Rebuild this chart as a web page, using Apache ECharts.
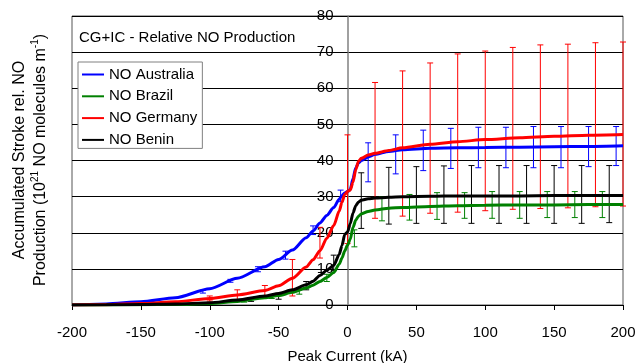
<!DOCTYPE html>
<html>
<head>
<meta charset="utf-8">
<script src="https://cdn.jsdelivr.net/npm/echarts@6/dist/echarts.min.js"></script>
<style>
  html, body { margin: 0; padding: 0; background: #fff; }
  #chart { width: 636px; height: 363px; }
</style>
</head>
<body>
<div id="chart"></div>
<script>
// peak current (kA) sample points for the curves
const curveX = [-200, -175, -150, -125, -100, -80, -60, -50, -40, -30, -25, -20, -15, -10, -6, -4, -2, 0,
  2, 4, 6, 8, 10, 15, 20, 30, 40, 60, 80, 100, 125, 150, 175, 200];

const australia = [0, 0.3, 0.9, 2.0, 4.5, 7.4, 10.6, 12.6, 15.2, 18.6, 20.5, 22.7, 24.8, 27.0, 29.3, 30.3, 31.0, 31.4,
  32.0, 35.0, 38.0, 39.3, 40.0, 41.0, 41.7, 42.5, 43.0, 43.4, 43.5, 43.6, 43.7, 43.8, 43.9, 44.1];
const brazil = [0, 0.02, 0.1, 0.2, 0.4, 1.0, 2.0, 2.6, 3.5, 4.7, 5.5, 6.5, 7.6, 9.0, 11.3, 13.0, 15.0, 16.6,
  18.2, 21.5, 23.5, 24.6, 25.2, 25.9, 26.3, 26.8, 27.0, 27.3, 27.5, 27.6, 27.7, 27.7, 27.8, 27.8];
const germany = [0, 0.1, 0.4, 0.9, 1.8, 2.8, 4.0, 5.3, 7.4, 10.5, 12.5, 15.0, 18.5, 22.0, 26.0, 28.5, 30.6, 31.4,
  31.8, 34.0, 37.5, 39.8, 40.6, 41.5, 42.0, 42.8, 43.5, 44.5, 45.2, 45.8, 46.3, 46.7, 47.0, 47.2];
const benin = [0, 0.05, 0.15, 0.3, 0.6, 1.4, 2.5, 3.2, 4.2, 5.6, 6.6, 8.2, 9.6, 11.0, 14.0, 16.5, 19.5, 20.2,
  22.5, 25.5, 27.5, 28.5, 29.0, 29.4, 29.6, 29.8, 30.0, 30.1, 30.2, 30.2, 30.2, 30.3, 30.3, 30.3];

// error bars: x, low, high
const australiaErrX = [-105, -85, -65, -45, -25, -5, 15, 35, 55, 75, 95, 115, 135, 155, 175, 195];
const australiaErrLo = [3.3, 6.3, 9.2, 12.7, 19.5, 28.6, 34.1, 36.3, 37.2, 37.8, 38.0, 38.0, 38.0, 38.0, 38.3, 38.6];
const australiaErrHi = [4.1, 7.1, 10.6, 14.9, 21.9, 31.8, 44.9, 47.1, 48.4, 48.9, 49.2, 49.2, 49.4, 49.4, 49.4, 49.4];

const brazilErrX = [-75, -55, -35, -15, 5, 25, 45, 65, 85, 105, 125, 145, 165, 185];
const brazilErrLo = [0.8, 1.8, 3.0, 6.5, 16.1, 23.3, 23.5, 23.7, 24.0, 24.0, 24.0, 24.2, 24.2, 24.2];
const brazilErrHi = [1.4, 2.6, 4.2, 8.5, 20.8, 30.0, 30.6, 31.1, 31.1, 31.4, 31.4, 31.4, 31.4, 31.4];

const germanyErrX = [-100, -80, -60, -40, -20, 0, 20, 40, 60, 80, 100, 120, 140, 160, 180, 200];
const germanyErrLo = [1.1, 1.2, 1.8, 2.5, 13.0, 17.0, 24.0, 24.6, 25.4, 25.7, 26.1, 26.5, 26.7, 26.9, 27.2, 27.4];
const germanyErrHi = [2.5, 4.2, 5.4, 12.6, 21.5, 47.1, 61.6, 64.8, 67.0, 69.5, 70.3, 71.3, 72.0, 72.2, 72.6, 72.8];

const beninErrX = [-70, -50, -30, -10, 10, 30, 50, 70, 90, 110, 130, 150, 170, 190];
const beninErrLo = [1.0, 1.6, 4.2, 9.5, 21.2, 22.4, 22.6, 22.6, 22.6, 22.6, 22.6, 22.6, 22.6, 22.8];
const beninErrHi = [1.8, 2.9, 6.5, 13.8, 36.6, 38.1, 38.3, 38.5, 38.6, 38.6, 38.6, 38.6, 38.6, 38.6];

const xTicks = { min: -200, max: 200, interval: 50 };
const yTicks = { min: 0, max: 80, interval: 10 };

const font = "'Liberation Sans', Arial, sans-serif";
const lineIcon = "path://M0,0H22V2H0Z";

function pairs(xs, ys) {
  return xs.map((x, i) => [x, ys[i]]);
}

function triples(xs, lo, hi) {
  return xs.map((x, i) => [x, lo[i], hi[i]]);
}

function lineSeries(name, color, ys) {
  return {
    name: name,
    type: "line",
    data: pairs(curveX, ys),
    symbol: "none",
    smooth: 0.25,
    smoothMonotone: "x",
    lineStyle: { color: color, width: 3 },
    itemStyle: { color: color },
  };
}

function errorSeries(color, xs, lo, hi) {
  return {
    type: "custom",
    data: triples(xs, lo, hi),
    encode: { x: 0, y: [1, 2] },
    renderItem: function (params, api) {
      const x = api.value(0);
      const a = api.coord([x, api.value(1)]);
      const b = api.coord([x, api.value(2)]);
      const cap = 3;
      const style = { stroke: color, lineWidth: 1 };
      return {
        type: "group",
        children: [
          { type: "line", shape: { x1: a[0], y1: a[1], x2: b[0], y2: b[1] }, style: style },
          { type: "line", shape: { x1: b[0] - cap, y1: b[1], x2: b[0] + cap, y2: b[1] }, style: style },
          { type: "line", shape: { x1: a[0] - cap, y1: a[1], x2: a[0] + cap, y2: a[1] }, style: style },
        ],
      };
    },
  };
}

const chart = echarts.init(document.getElementById("chart"));

chart.setOption({
  animation: false,
  textStyle: { fontFamily: font },
  grid: {
    left: 72,
    right: 13,
    top: 16,
    bottom: 58,
    outerBoundsMode: "none",
    show: true,
    borderColor: "#555",
    borderWidth: 1,
  },
  legend: {
    orient: "vertical",
    left: 78,
    top: 62,
    padding: [5, 5, 1, 4],
    itemWidth: 22,
    itemHeight: 2,
    itemGap: 6.8,
    itemTextGap: 4,
    backgroundColor: "#fff",
    borderColor: "#808080",
    borderWidth: 1,
    textStyle: { fontSize: 15, color: "#000", fontFamily: font },
    data: [
      { name: "NO Australia", icon: lineIcon },
      { name: "NO Brazil", icon: lineIcon },
      { name: "NO Germany", icon: lineIcon },
      { name: "NO Benin", icon: lineIcon },
    ],
  },
  graphic: [
    {
      type: "text",
      left: 79,
      top: 30,
      style: { text: "CG+IC - Relative NO Production", fill: "#000", font: "15px " + font },
    },
    {
      type: "text",
      x: 9,
      y: 160,
      rotation: Math.PI / 2,
      style: {
        text: "{a|Accumulated Stroke rel. NO}\n{a|Production (10}{s|21}{a| NO molecules m}{s|-1}{a|)}",
        align: "center",
        verticalAlign: "top",
        fill: "#000",
        rich: {
          a: { fontSize: 16, lineHeight: 21, fontFamily: font, fill: "#000" },
          s: { fontSize: 10, lineHeight: 12, verticalAlign: "top", fontFamily: font, fill: "#000" },
        },
      },
    },
  ],
  xAxis: {
    type: "value",
    min: xTicks.min,
    max: xTicks.max,
    interval: xTicks.interval,
    name: "Peak Current (kA)",
    nameLocation: "middle",
    nameGap: 44,
    nameTextStyle: { fontSize: 15, color: "#000", fontFamily: font },
    axisLine: { onZero: false, lineStyle: { color: "#000", width: 1 } },
    axisTick: { show: true, length: 5, lineStyle: { color: "#000" } },
    axisLabel: { fontSize: 15, color: "#000", margin: 20, fontFamily: font },
    splitLine: { show: false },
  },
  yAxis: {
    type: "value",
    min: yTicks.min,
    max: yTicks.max,
    interval: yTicks.interval,
    position: "left",
    offset: -275.5,
    axisLine: { show: true, onZero: false, lineStyle: { color: "#808080", width: 1.5 } },
    axisTick: { show: true, length: 5, lineStyle: { color: "#000" } },
    axisLabel: { fontSize: 15, color: "#000", margin: 14, fontFamily: font },
    splitLine: { show: true, lineStyle: { color: "#000", width: 1 } },
  },
  series: [
    lineSeries("NO Australia", "#0000ff", australia),
    errorSeries("#0000ff", australiaErrX, australiaErrLo, australiaErrHi),
    lineSeries("NO Brazil", "#008000", brazil),
    errorSeries("#008000", brazilErrX, brazilErrLo, brazilErrHi),
    lineSeries("NO Germany", "#ff0000", germany),
    errorSeries("#ff0000", germanyErrX, germanyErrLo, germanyErrHi),
    lineSeries("NO Benin", "#000000", benin),
    errorSeries("#000000", beninErrX, beninErrLo, beninErrHi),
  ],
});
</script>
</body>
</html>
